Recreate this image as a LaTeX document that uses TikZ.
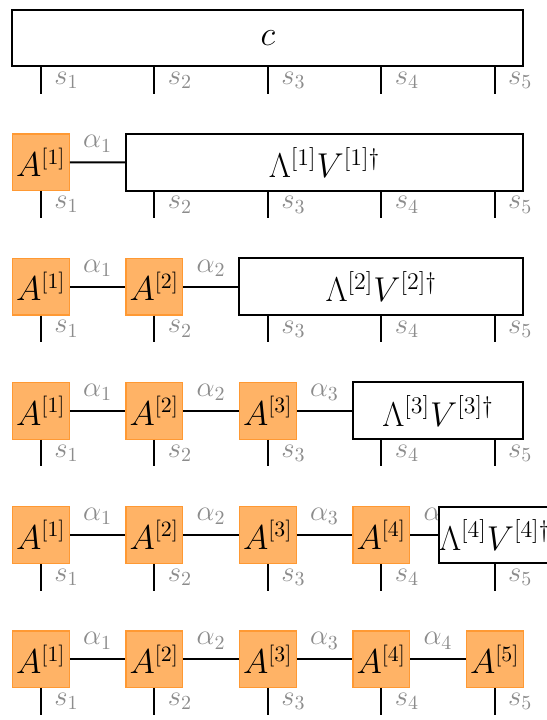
\documentclass[tikz,border=0pt]{standalone}
\usepackage{amsmath}
\usepackage{amssymb}
\usetikzlibrary{positioning,calc}
\definecolor{mpsFill}{HTML}{FFB366}
\definecolor{mpsEdge}{HTML}{FF9933}
\definecolor{mpsIdx}{HTML}{8C8C8C}
\tikzset{
  site/.style={draw=mpsEdge, fill=mpsFill, semithick, minimum size=10mm, inner sep=0pt, font=\fontsize{16}{19}\selectfont},
  rest/.style={draw, line width=1pt, fill=white, minimum height=10mm, inner sep=0pt, font=\LARGE},
  bond/.style={line width=1pt},
  leg/.style={line width=1pt},
  physlabel/.style={font=\Large, text=mpsIdx, anchor=west, inner sep=2pt, xshift=1.5mm},
  bondlabel/.style={font=\Large, text=mpsIdx, anchor=south, inner sep=2pt, yshift=1mm}
}
\begin{document}
\begin{tikzpicture}
  \useasboundingbox (0,0) rectangle (9.64,-12.69);
  % site positions p and leg ends q, one row per step
  \foreach \r/\y in {1/-0.67,2/-2.86,3/-5.05,4/-7.24,5/-9.43,6/-11.62}{
    \foreach \i in {1,...,5}{
      \coordinate (p\r\i) at ({0.72+2*(\i-1)},\y);
      \coordinate (q\r\i) at ({0.72+2*(\i-1)},\y-0.98);
    }
  }

  % row 1: full tensor
  \node[rest, minimum width=9cm] (c) at ($(p11)!0.5!(p15)$) {$c$};
  \foreach \i in {1,...,5}{\draw[leg] (c.south -| q1\i) -- (q1\i) node[physlabel, midway] (s1\i) {$s_{\i}$};}

  % row 2
  \node[site] (a21) at (p21) {$A^{[1]}$};
  \node[bondlabel] (al21) at ($(p21)!0.5!(p22)$) {$\alpha_1$};
  \node[rest, minimum width=7cm] (l2) at ($(p22)!0.5!(p25)$) {$\Lambda^{[1]}V^{[1]\dagger}$};
  \draw[bond] (a21) -- (l2);
  \draw[leg] (a21) -- (q21) node[physlabel, midway] (s21) {$s_{1}$};
  \foreach \i in {2,...,5}{\draw[leg] (l2.south -| q2\i) -- (q2\i) node[physlabel, midway] (s2\i) {$s_{\i}$};}

  % row 3
  \foreach \i in {1,2}{\node[site] (a3\i) at (p3\i) {$A^{[\i]}$};}
  \foreach \i [evaluate=\i as \j using int(\i+1)] in {1,2}{\node[bondlabel] (al3\i) at ($(p3\i)!0.5!(p3\j)$) {$\alpha_{\i}$};}
  \node[rest, minimum width=5cm] (l3) at ($(p33)!0.5!(p35)$) {$\Lambda^{[2]}V^{[2]\dagger}$};
  \draw[bond] (a31) -- (a32) -- (l3);
  \foreach \i in {1,2}{\draw[leg] (a3\i) -- (q3\i) node[physlabel, midway] (s3\i) {$s_{\i}$};}
  \foreach \i in {3,4,5}{\draw[leg] (l3.south -| q3\i) -- (q3\i) node[physlabel, midway] (s3\i) {$s_{\i}$};}

  % row 4
  \foreach \i in {1,2,3}{\node[site] (a4\i) at (p4\i) {$A^{[\i]}$};}
  \foreach \i [evaluate=\i as \j using int(\i+1)] in {1,2,3}{\node[bondlabel] (al4\i) at ($(p4\i)!0.5!(p4\j)$) {$\alpha_{\i}$};}
  \node[rest, minimum width=3cm] (l4) at ($(p44)!0.5!(p45)$) {$\Lambda^{[3]}V^{[3]\dagger}$};
  \draw[bond] (a41) -- (a42) -- (a43) -- (l4);
  \foreach \i in {1,2,3}{\draw[leg] (a4\i) -- (q4\i) node[physlabel, midway] (s4\i) {$s_{\i}$};}
  \foreach \i in {4,5}{\draw[leg] (l4.south -| q4\i) -- (q4\i) node[physlabel, midway] (s4\i) {$s_{\i}$};}

  % row 5
  \foreach \i in {1,...,4}{\node[site] (a5\i) at (p5\i) {$A^{[\i]}$};}
  \foreach \i [evaluate=\i as \j using int(\i+1)] in {1,...,4}{\node[bondlabel] (al5\i) at ($(p5\i)!0.5!(p5\j)$) {$\alpha_{\i}$};}
  \node[rest] (l5) at (p55) {$\Lambda^{[4]}V^{[4]\dagger}$};
  \draw[bond] (a51) -- (a52) -- (a53) -- (a54) -- (l5);
  \foreach \i in {1,...,4}{\draw[leg] (a5\i) -- (q5\i) node[physlabel, midway] (s5\i) {$s_{\i}$};}
  \draw[leg] (l5.south -| q55) -- (q55) node[physlabel, midway] (s55) {$s_{5}$};

  % row 6: full MPS
  \foreach \i in {1,...,5}{\node[site] (a6\i) at (p6\i) {$A^{[\i]}$};}
  \foreach \i [evaluate=\i as \j using int(\i+1)] in {1,...,4}{\node[bondlabel] (al6\i) at ($(p6\i)!0.5!(p6\j)$) {$\alpha_{\i}$};}
  \draw[bond] (a61) -- (a62) -- (a63) -- (a64) -- (a65);
  \foreach \i in {1,...,5}{\draw[leg] (a6\i) -- (q6\i) node[physlabel, midway] (s6\i) {$s_{\i}$};}
\end{tikzpicture}
\end{document}
